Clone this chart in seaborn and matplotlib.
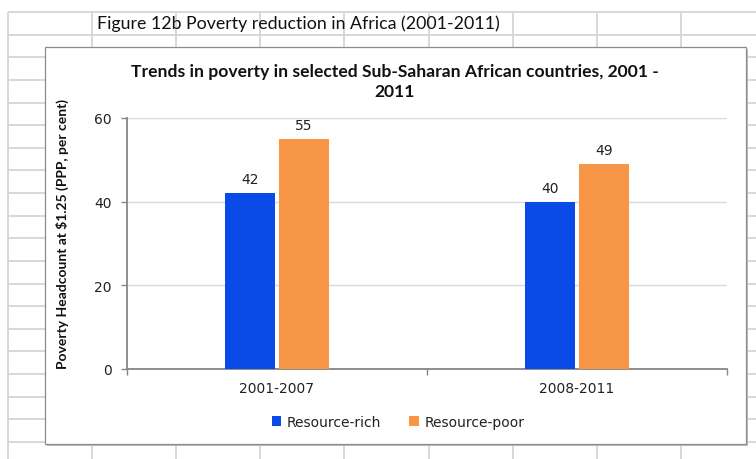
import matplotlib
matplotlib.use("Agg")
import matplotlib.pyplot as plt
from matplotlib.patches import Rectangle, Patch
import seaborn as sns
import pandas as pd

# ---- data ----
periods = ["2001-2007", "2008-2011"]
groups = ["Resource-rich", "Resource-poor"]
resource_rich = [42, 40]
resource_poor = [55, 49]
yticks = [0, 20, 40, 60]

fig_title = "Figure 12b Poverty reduction in Africa (2001-2011)"
chart_title = "Trends in poverty in selected Sub-Saharan African countries, 2001 -\n2011"
ylabel = "Poverty Headcount at $1.25 (PPP, per cent)"

BLUE = "#0A4BE8"
ORANGE = "#F79646"

df = pd.DataFrame({
    "period": periods * 2,
    "group": [groups[0]] * len(periods) + [groups[1]] * len(periods),
    "value": resource_rich + resource_poor,
})

sns.set_style("white")
plt.rcParams["font.family"] = ["DejaVu Sans"]

W, H = 756, 460
fig = plt.figure(figsize=(W / 100, H / 100), dpi=100)

# ---- spreadsheet-like background (pixel coordinates) ----
bg = fig.add_axes([0, 0, 1, 1])
bg.set_xlim(0, W)
bg.set_ylim(H, 0)
bg.axis("off")
gridc = "#d6d6d6"
row_y = [13 + 22.63 * k for k in range(21)]
col_x = [8 + 84.1 * k for k in range(10)]
for y in row_y:
    bg.plot([8, W], [y, y], color=gridc, lw=1.3, zorder=1, solid_capstyle="butt")
for x in col_x:
    bg.plot([x, x], [13, H], color=gridc, lw=1.3, zorder=1, solid_capstyle="butt")
bg.text(97, 24, fig_title, fontsize=12.8, family=["Lato", "DejaVu Sans"],
        va="center", ha="left", color="#111111", zorder=2)

# chart box with shadow
bg.add_patch(Rectangle((47, 50), 701, 397, facecolor="#bdbdbd", edgecolor="none", zorder=3))
bg.add_patch(Rectangle((45, 48), 701, 397, facecolor="white", edgecolor="#8c8c8c", lw=0.9, zorder=4))
bg.text(395, 82, chart_title, fontsize=12.6, fontweight="bold", family=["Lato", "DejaVu Sans"],
        ha="center", va="center", linespacing=1.35, color="#111111", zorder=5)

# ---- main plot ----
ax = fig.add_axes([127 / W, (H - 370) / H, (727 - 127) / W, (370 - 119) / H])
ax.patch.set_alpha(0)
sns.barplot(data=df, x="period", y="value", hue="group", hue_order=groups,
            palette=[BLUE, ORANGE], width=0.36, gap=0.07, saturation=1,
            legend=False, ax=ax, zorder=3, linewidth=0)
for cont in ax.containers:
    ax.bar_label(cont, padding=5, fontsize=10, color="#222222")

ax.set_ylim(0, 60)
ax.set_yticks(yticks)
ax.set_xlim(-0.5, 1.5)
ax.yaxis.grid(True, color="#d9d9d9", lw=1.0, zorder=0)
ax.xaxis.grid(False)
for s in ["top", "right"]:
    ax.spines[s].set_visible(False)
for s in ["left", "bottom"]:
    ax.spines[s].set_color("#868686")
    ax.spines[s].set_linewidth(1.3)
ax.tick_params(axis="y", length=4, width=1, color="#868686", pad=7, labelsize=10, labelcolor="#222222", left=True)
ax.tick_params(axis="x", length=0, pad=9, labelsize=10, labelcolor="#222222")
ax.set_xticks([-0.5, 0.5, 1.5], minor=True)
ax.tick_params(axis="x", which="minor", length=4, width=1, color="#868686", bottom=True)
ax.set_xlabel("")
ax.set_ylabel(ylabel, fontsize=10, fontweight="bold", family=["Lato", "DejaVu Sans"], color="#111111")
ax.yaxis.set_label_coords(-0.097, 0.54)

handles = [Patch(facecolor=BLUE, edgecolor="none"), Patch(facecolor=ORANGE, edgecolor="none")]
fig.legend(handles, groups, loc="center", bbox_to_anchor=(398 / W, (H - 423) / H),
           ncol=2, frameon=False, fontsize=10, handlelength=0.7, handleheight=0.7,
           handletextpad=0.4, columnspacing=2.0, labelcolor="#222222")

fig.savefig("out.png", dpi=100)
